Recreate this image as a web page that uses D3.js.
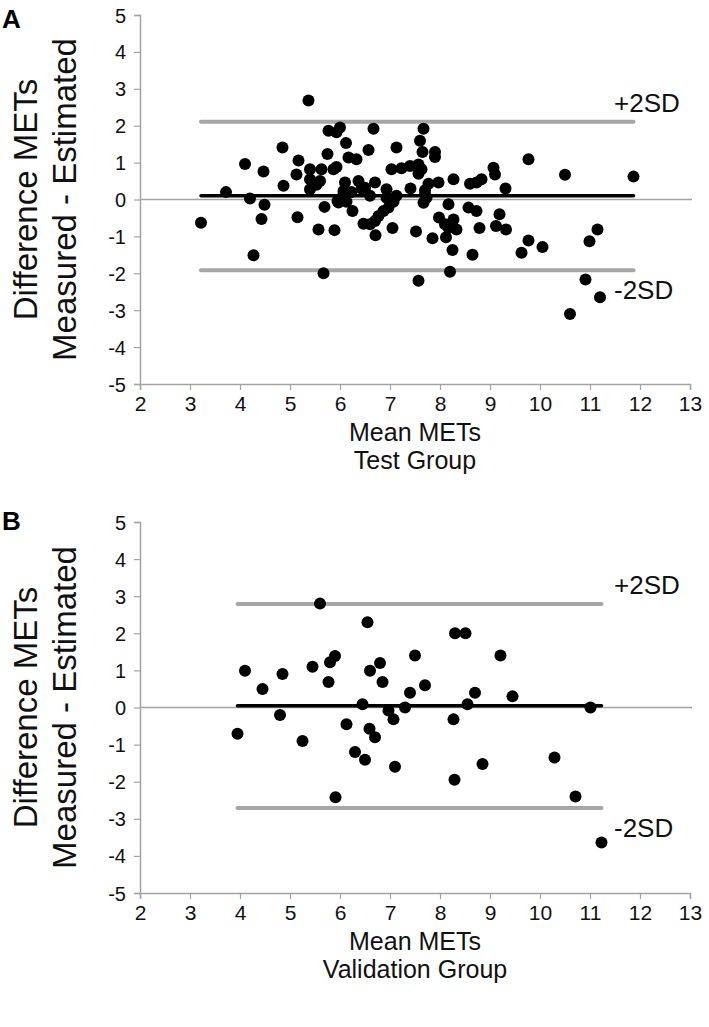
<!DOCTYPE html>
<html><head><meta charset="utf-8">
<script src="https://cdn.jsdelivr.net/npm/d3@7"></script>
<style>body{margin:0;background:#fff}</style>
</head><body>
<svg id="c" width="709" height="1027"></svg>
<script>
const xTicks = [2,3,4,5,6,7,8,9,10,11,12,13];
const yTicks = [-5,-4,-3,-2,-1,0,1,2,3,4,5];
const panelLabels = ["A","B"];
const groupNames = ["Test Group","Validation Group"];
const xAxisTitle = "Mean METs";
const yTitleLines = ["Difference METs","Measured - Estimated"];
const biasValues = [0.1, 0.05];
const upperLimits = [2.11, 2.79];
const lowerLimits = [-1.92, -2.71];
const upperLabel = "+2SD", lowerLabel = "-2SD";

const testMean = [3.22,3.72,4.1,4.2,4.27,4.43,4.47,4.49,4.85,4.87,5.15,5.13,5.17,5.37,5.4,5.4,5.4,5.47,5.53,5.6,5.57,5.63,5.67,5.69,5.75,5.77,5.87,5.89,5.93,5.93,6.0,5.97,6.0,6.07,6.1,6.12,6.13,6.17,6.25,6.33,6.37,6.5,6.47,6.57,6.6,6.6,6.67,6.7,6.7,6.77,6.71,6.87,6.93,6.93,6.97,7.03,7.05,7.07,7.13,7.13,7.23,7.4,7.41,7.52,7.57,7.57,7.6,7.63,7.57,7.65,7.67,7.67,7.7,7.7,7.77,7.85,7.9,7.9,7.97,7.98,8.1,8.12,8.17,8.17,8.2,8.25,8.27,8.27,8.33,8.57,8.6,8.65,8.73,8.73,8.79,8.83,9.07,9.1,9.12,9.19,9.31,9.32,9.63,9.77,9.77,10.05,10.5,10.6,10.91,10.99,11.15,11.2,11.87,7.73,6.23,6.43,5.95,6.07];
const testDiff = [-0.63,0.2,0.96,0.03,-1.51,-0.53,0.76,-0.14,1.41,0.37,-0.48,0.68,1.06,2.68,0.82,0.55,0.28,0.45,0.4,0.5,-0.81,0.82,-2.0,-0.2,1.23,1.86,0.82,-0.83,1.82,0.88,1.95,-0.08,0.0,0.14,0.46,1.53,-0.06,1.14,-0.31,1.09,0.5,0.32,-0.66,1.34,0.1,-0.67,1.92,0.46,-0.58,-0.45,-0.97,-0.31,0.28,0.05,-0.22,0.82,-0.77,-0.06,0.1,1.41,0.85,0.91,0.3,-0.87,0.95,-2.2,1.59,0.82,0.7,1.29,1.92,-0.09,0.14,0.25,0.43,-1.05,1.29,1.15,0.46,-0.49,-0.67,-1.02,-0.13,-0.77,-1.96,-1.37,0.55,-0.54,-0.81,-0.22,0.43,-1.5,0.46,-0.31,-0.77,0.55,0.86,0.68,-0.72,-0.4,0.3,-0.81,-1.44,1.09,-1.11,-1.29,0.67,-3.1,-2.17,-1.13,-0.81,-2.65,0.62,0.05,0.2,0.3,-0.04,0.23];

const valMean = [3.95,4.1,4.45,4.8,4.85,5.25,5.45,5.6,5.77,5.8,5.9,5.91,6.13,6.3,6.45,6.5,6.55,6.59,6.6,6.7,6.8,6.85,6.97,7.07,7.1,7.3,7.4,7.5,7.7,8.27,8.29,8.3,8.51,8.55,8.7,8.85,9.21,9.45,10.29,10.71,11.01,11.23];
const valDiff = [-0.71,0.99,0.5,-0.2,0.9,-0.9,1.1,2.8,0.69,1.22,1.39,-2.42,-0.45,-1.2,0.09,-1.41,2.3,-0.57,0.99,-0.8,1.2,0.69,-0.08,-0.32,-1.6,0.0,0.4,1.4,0.6,-0.32,-1.95,2.0,2.0,0.09,0.4,-1.52,1.4,0.3,-1.35,-2.4,0.0,-3.64];

const panels = [
  {xs: testMean, ys: testDiff, top: 15, bottom: 384, labelY: 28},
  {xs: valMean, ys: valDiff, top: 522, bottom: 893, labelY: 530}
];

const svg = d3.select("#c");
const left = 140, right = 690;
const axisGray = "#a3a3a3";
const font = "'Liberation Sans', Arial, sans-serif";
const narrow = "'Liberation Sans Narrow', 'Arial Narrow', 'Liberation Sans', Arial, sans-serif";

panels.forEach((p, i) => {
  const g = svg.append("g");
  const x = d3.scaleLinear().domain([xTicks[0], xTicks[xTicks.length-1]]).range([left, right]);
  const y = d3.scaleLinear().domain([yTicks[0], yTicks[yTicks.length-1]]).range([p.bottom, p.top]);

  g.append("line").attr("x1", x(2)).attr("x2", x(13)+2).attr("y1", y(0)).attr("y2", y(0))
    .attr("stroke", axisGray).attr("stroke-width", 1.5);

  const ya = g.append("g").attr("transform", `translate(${left},0)`)
    .call(d3.axisLeft(y).tickValues(yTicks).tickSize(6).tickPadding(8).tickFormat(d => String(d)));
  const xa = g.append("g").attr("transform", `translate(0,${p.bottom})`)
    .call(d3.axisBottom(x).tickValues(xTicks).tickSize(6).tickPadding(6).tickFormat(d => String(d)));
  [ya, xa].forEach(a => {
    a.select(".domain").attr("stroke", axisGray).attr("stroke-width", 1.5);
    a.selectAll(".tick line").attr("stroke", axisGray).attr("stroke-width", 1.2);
    a.selectAll(".tick text").attr("fill", "#111");
  });
  ya.selectAll(".tick text").style("font-family", font).style("font-size", "20px").attr("dy", "0.35em");
  xa.selectAll(".tick text").style("font-family", narrow).style("font-size", "21px");

  const ext = d3.extent(p.xs);
  [upperLimits[i], lowerLimits[i]].forEach(v => {
    g.append("line").attr("x1", x(ext[0])).attr("x2", x(ext[1])).attr("y1", y(v)).attr("y2", y(v))
      .attr("stroke", "#a6a6a6").attr("stroke-width", 4).attr("stroke-linecap", "round");
  });
  g.append("line").attr("x1", x(ext[0])).attr("x2", x(ext[1])).attr("y1", y(biasValues[i])).attr("y2", y(biasValues[i]))
    .attr("stroke", "#000").attr("stroke-width", 3.5).attr("stroke-linecap", "round");

  g.selectAll("circle").data(p.xs.map((v, k) => [v, p.ys[k]])).join("circle")
    .attr("cx", d => x(d[0])).attr("cy", d => y(d[1])).attr("r", 6).attr("fill", "#000");

  g.append("text").attr("x", 614).attr("y", y(upperLimits[i]) - 10).text(upperLabel)
    .style("font-family", font).style("font-size", "26px").attr("fill", "#111");
  g.append("text").attr("x", 614).attr("y", y(lowerLimits[i]) + 29).text(lowerLabel)
    .style("font-family", font).style("font-size", "26px").attr("fill", "#111");

  const cy = (p.top + p.bottom) / 2;
  yTitleLines.forEach((t, k) => {
    g.append("text").attr("transform", `translate(${37 + k*39},${cy}) rotate(-90)`)
      .attr("text-anchor", "middle").text(t)
      .style("font-family", font).style("font-size", "33px").attr("fill", "#111");
  });
  const xc = (left + right) / 2;
  g.append("text").attr("x", xc).attr("y", p.bottom + 57).attr("text-anchor", "middle").text(xAxisTitle)
    .style("font-family", narrow).style("font-size", "25px").attr("fill", "#111");
  g.append("text").attr("x", xc).attr("y", p.bottom + 85).attr("text-anchor", "middle").text(groupNames[i])
    .style("font-family", narrow).style("font-size", "25px").attr("fill", "#111");
  g.append("text").attr("x", 2).attr("y", p.labelY).text(panelLabels[i])
    .style("font-family", font).style("font-weight", "bold").style("font-size", "26px").attr("fill", "#000");
});
</script>
</body></html>
